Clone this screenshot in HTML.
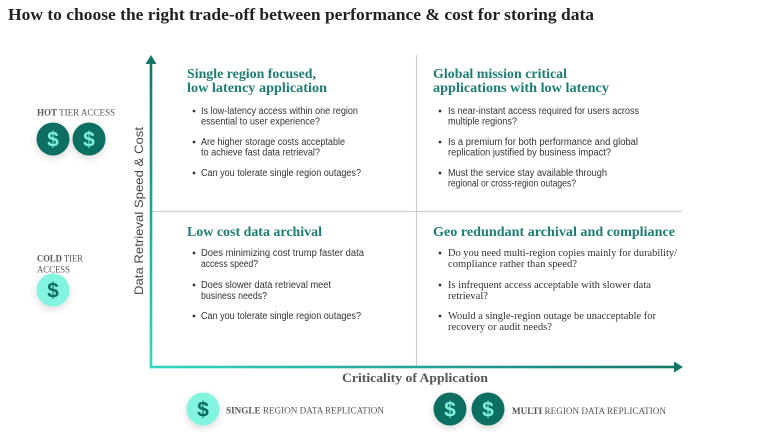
<!DOCTYPE html>
<html>
<head>
<meta charset="utf-8">
<style>
  html,body{margin:0;padding:0;background:#fff;}
  svg{display:block;}
  .h{font-family:"Liberation Serif",serif;font-weight:bold;font-size:14px;fill:#1c7e72;}
  .b{font-family:"Liberation Sans",sans-serif;font-size:10px;fill:#333;}
  .bs{font-family:"Liberation Serif",serif;font-size:10.5px;fill:#333;}
  .lab{font-family:"Liberation Serif",serif;font-size:9.5px;fill:#555;}
  .lab tspan.bo{font-weight:bold;}
  .dol{font-family:"Liberation Sans",sans-serif;font-weight:bold;font-size:21px;text-anchor:middle;}
</style>
</head>
<body>
<svg width="768" height="432" viewBox="0 0 768 432" xmlns="http://www.w3.org/2000/svg">
  <defs>
    <linearGradient id="gv" gradientUnits="userSpaceOnUse" x1="151" y1="60" x2="151" y2="368">
      <stop offset="0" stop-color="#137568"/>
      <stop offset="1" stop-color="#33d6c2"/>
    </linearGradient>
    <linearGradient id="gh" gradientUnits="userSpaceOnUse" x1="150" y1="367" x2="676" y2="367">
      <stop offset="0" stop-color="#33d6c2"/>
      <stop offset="1" stop-color="#137568"/>
    </linearGradient>
    <filter id="sh" x="-60%" y="-60%" width="220%" height="220%">
      <feDropShadow dx="0" dy="3" stdDeviation="4" flood-color="#000" flood-opacity="0.14"/>
    </filter>
  </defs>

  <!-- Title -->
  <text x="8" y="20" font-family="Liberation Serif, serif" font-weight="bold" font-size="17" fill="#222" textLength="586" lengthAdjust="spacingAndGlyphs">How to choose the right trade-off between performance &amp; cost for storing data</text>

  <!-- dividers -->
  <line x1="416.5" y1="55" x2="416.5" y2="366" stroke="#cfcfcf" stroke-width="1.2"/>
  <line x1="151" y1="211.5" x2="682" y2="211.5" stroke="#cfcfcf" stroke-width="1.2"/>

  <!-- axes -->
  <rect x="149.7" y="62" width="2.6" height="306.3" fill="url(#gv)"/>
  <polygon points="151,55 145.5,64 156.5,64" fill="#137568"/>
  <rect x="149.7" y="365.7" width="525.3" height="2.6" fill="url(#gh)"/>
  <polygon points="683,367 674,361.5 674,372.5" fill="#137568"/>

  <!-- axis labels -->
  <text transform="translate(143,211) rotate(-90)" text-anchor="middle" font-family="Liberation Sans, sans-serif" font-size="12" fill="#444" textLength="168" lengthAdjust="spacingAndGlyphs">Data Retrieval Speed &amp; Cost</text>
  <text x="342" y="382" font-family="Liberation Serif, serif" font-weight="bold" font-size="13" fill="#555" textLength="146" lengthAdjust="spacingAndGlyphs">Criticality of Application</text>

  <!-- TL quadrant -->
  <text class="h" x="187" y="78" textLength="129" lengthAdjust="spacingAndGlyphs">Single region focused,</text>
  <text class="h" x="187" y="92" textLength="140" lengthAdjust="spacingAndGlyphs">low latency application</text>
  <circle cx="194" cy="111" r="1.4" fill="#333"/>
  <text class="b" x="201" y="114" textLength="157" lengthAdjust="spacingAndGlyphs">Is low-latency access within one region</text>
  <text class="b" x="201" y="124.5" textLength="119" lengthAdjust="spacingAndGlyphs">essential to user experience?</text>
  <circle cx="194" cy="142" r="1.4" fill="#333"/>
  <text class="b" x="201" y="145" textLength="144" lengthAdjust="spacingAndGlyphs">Are higher storage costs acceptable</text>
  <text class="b" x="201" y="155.5" textLength="119" lengthAdjust="spacingAndGlyphs">to achieve fast data retrieval?</text>
  <circle cx="194" cy="173" r="1.4" fill="#333"/>
  <text class="b" x="201" y="176" textLength="160" lengthAdjust="spacingAndGlyphs">Can you tolerate single region outages?</text>

  <!-- TR quadrant -->
  <text class="h" x="433" y="78" textLength="134" lengthAdjust="spacingAndGlyphs">Global mission critical</text>
  <text class="h" x="433" y="92" textLength="176" lengthAdjust="spacingAndGlyphs">applications with low latency</text>
  <circle cx="440" cy="111" r="1.4" fill="#333"/>
  <text class="b" x="448" y="114" textLength="191" lengthAdjust="spacingAndGlyphs">Is near-instant access required for users across</text>
  <text class="b" x="448" y="124.5" textLength="69" lengthAdjust="spacingAndGlyphs">multiple regions?</text>
  <circle cx="440" cy="142" r="1.4" fill="#333"/>
  <text class="b" x="448" y="145" textLength="190" lengthAdjust="spacingAndGlyphs">Is a premium for both performance and global</text>
  <text class="b" x="448" y="155.5" textLength="163" lengthAdjust="spacingAndGlyphs">replication justified by business impact?</text>
  <circle cx="440" cy="173" r="1.4" fill="#333"/>
  <text class="b" x="448" y="176" textLength="159" lengthAdjust="spacingAndGlyphs">Must the service stay available through</text>
  <text class="b" x="448" y="186.5" textLength="128" lengthAdjust="spacingAndGlyphs">regional or cross-region outages?</text>

  <!-- BL quadrant -->
  <text class="h" x="187" y="236" textLength="135" lengthAdjust="spacingAndGlyphs">Low cost data archival</text>
  <circle cx="194" cy="253" r="1.4" fill="#333"/>
  <text class="b" x="201" y="256" textLength="163" lengthAdjust="spacingAndGlyphs">Does minimizing cost trump faster data</text>
  <text class="b" x="201" y="267" textLength="57" lengthAdjust="spacingAndGlyphs">access speed?</text>
  <circle cx="194" cy="285" r="1.4" fill="#333"/>
  <text class="b" x="201" y="288" textLength="130" lengthAdjust="spacingAndGlyphs">Does slower data retrieval meet</text>
  <text class="b" x="201" y="299" textLength="66" lengthAdjust="spacingAndGlyphs">business needs?</text>
  <circle cx="194" cy="316" r="1.4" fill="#333"/>
  <text class="b" x="201" y="319" textLength="160" lengthAdjust="spacingAndGlyphs">Can you tolerate single region outages?</text>

  <!-- BR quadrant -->
  <text class="h" x="433" y="236" textLength="242" lengthAdjust="spacingAndGlyphs">Geo redundant archival and compliance</text>
  <circle cx="440" cy="253" r="1.4" fill="#333"/>
  <text class="bs" x="448" y="256" textLength="229" lengthAdjust="spacingAndGlyphs">Do you need multi-region copies mainly for durability/</text>
  <text class="bs" x="448" y="267" textLength="129" lengthAdjust="spacingAndGlyphs">compliance rather than speed?</text>
  <circle cx="440" cy="285" r="1.4" fill="#333"/>
  <text class="bs" x="448" y="288" textLength="203" lengthAdjust="spacingAndGlyphs">Is infrequent access acceptable with slower data</text>
  <text class="bs" x="448" y="299" textLength="40" lengthAdjust="spacingAndGlyphs">retrieval?</text>
  <circle cx="440" cy="316" r="1.4" fill="#333"/>
  <text class="bs" x="448" y="319" textLength="208" lengthAdjust="spacingAndGlyphs">Would a single-region outage be unacceptable for</text>
  <text class="bs" x="448" y="330" textLength="104" lengthAdjust="spacingAndGlyphs">recovery or audit needs?</text>

  <!-- Left labels -->
  <text class="lab" x="37" y="115.5" textLength="78" lengthAdjust="spacingAndGlyphs"><tspan class="bo">HOT</tspan> TIER ACCESS</text>
  <g filter="url(#sh)">
    <circle cx="53" cy="139" r="16.5" fill="#0d6e62"/>
    <circle cx="89" cy="139" r="16.5" fill="#0d6e62"/>
  </g>
  <text class="dol" x="53" y="146.5" fill="#7ff0da">$</text>
  <text class="dol" x="89" y="146.5" fill="#7ff0da">$</text>

  <text class="lab" x="37" y="261.5" textLength="46" lengthAdjust="spacingAndGlyphs"><tspan class="bo">COLD</tspan> TIER</text>
  <text class="lab" x="37" y="272.5" textLength="33" lengthAdjust="spacingAndGlyphs">ACCESS</text>
  <g filter="url(#sh)">
    <circle cx="53" cy="290" r="16.5" fill="#82f4df"/>
  </g>
  <text class="dol" x="53" y="297.5" fill="#0d6e62">$</text>

  <!-- Bottom legend -->
  <g filter="url(#sh)">
    <circle cx="203" cy="409" r="16.5" fill="#82f4df"/>
  </g>
  <text class="dol" x="203" y="416.5" fill="#0d6e62">$</text>
  <text class="lab" x="226" y="413.5" textLength="158" lengthAdjust="spacingAndGlyphs"><tspan class="bo">SINGLE</tspan> REGION DATA REPLICATION</text>

  <g filter="url(#sh)">
    <circle cx="450" cy="409" r="16.5" fill="#0d6e62"/>
    <circle cx="488" cy="409" r="16.5" fill="#0d6e62"/>
  </g>
  <text class="dol" x="450" y="416.5" fill="#7ff0da">$</text>
  <text class="dol" x="488" y="416.5" fill="#7ff0da">$</text>
  <text class="lab" x="512" y="414" textLength="154" lengthAdjust="spacingAndGlyphs"><tspan class="bo">MULTI</tspan> REGION DATA REPLICATION</text>
</svg>
</body>
</html>
